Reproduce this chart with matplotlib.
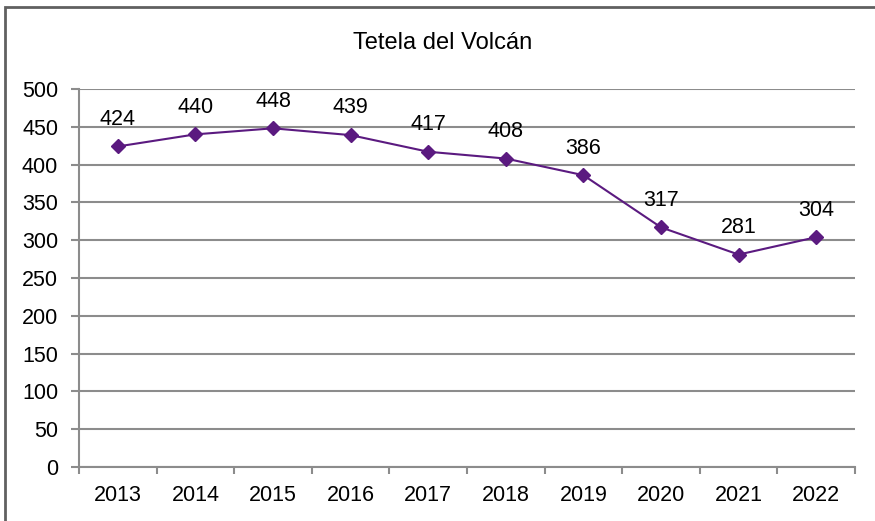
import matplotlib.pyplot as plt
from matplotlib.patches import Rectangle

years = ["2013", "2014", "2015", "2016", "2017", "2018", "2019", "2020", "2021", "2022"]
values = [424, 440, 448, 439, 417, 408, 386, 317, 281, 304]
y_ticks = [0, 50, 100, 150, 200, 250, 300, 350, 400, 450, 500]

PURPLE = "#5b1a80"
GRID = "#8c8c8c"
FS = 15.5

plt.rcParams["font.family"] = ["Liberation Sans", "DejaVu Sans"]

fig = plt.figure(figsize=(8.75, 5.21), dpi=100)
ax = fig.add_axes([79/875, 1 - 467/521, 776/875, 378/521])

x = list(range(len(years)))
ax.plot(x, values, color=PURPLE, lw=1.5, marker="D", ms=7, zorder=3)

for xi, v in zip(x, values):
    ax.annotate(str(v), (xi, v), xytext=(0, 12), textcoords="offset points",
                ha="center", va="bottom", fontsize=FS, color="black")

ax.set_xlim(-0.5, len(years) - 0.5)
ax.set_ylim(0, 500)
ax.set_yticks(y_ticks)
ax.set_yticklabels([str(t) for t in y_ticks], fontsize=FS)
ax.yaxis.grid(True, color=GRID, lw=1.5)
ax.set_axisbelow(True)

# category ticks between the labels
ax.set_xticks([i - 0.5 for i in range(len(years) + 1)])
ax.set_xticklabels([])
ax.set_xticks(x, minor=True)
ax.set_xticklabels(years, minor=True, fontsize=FS)
ax.tick_params(axis="x", which="major", length=5, color=GRID, width=1.5)
ax.tick_params(axis="x", which="minor", length=0, pad=13)
ax.tick_params(axis="y", length=6, color=GRID, width=1.5, pad=9)

for side in ["top", "right"]:
    ax.spines[side].set_visible(False)
for side in ["left", "bottom"]:
    ax.spines[side].set_color(GRID)
    ax.spines[side].set_linewidth(1.5)

fig.text(443/875, 1 - 43/521, "Tetela del Volcán", ha="center", va="center", fontsize=17)

fig.patches.append(Rectangle((5/875, -0.1), 1.2, 1 - 7/521 + 0.1, transform=fig.transFigure,
                             fill=False, edgecolor="#606060", lw=2))

fig.savefig("out.png", dpi=100)
